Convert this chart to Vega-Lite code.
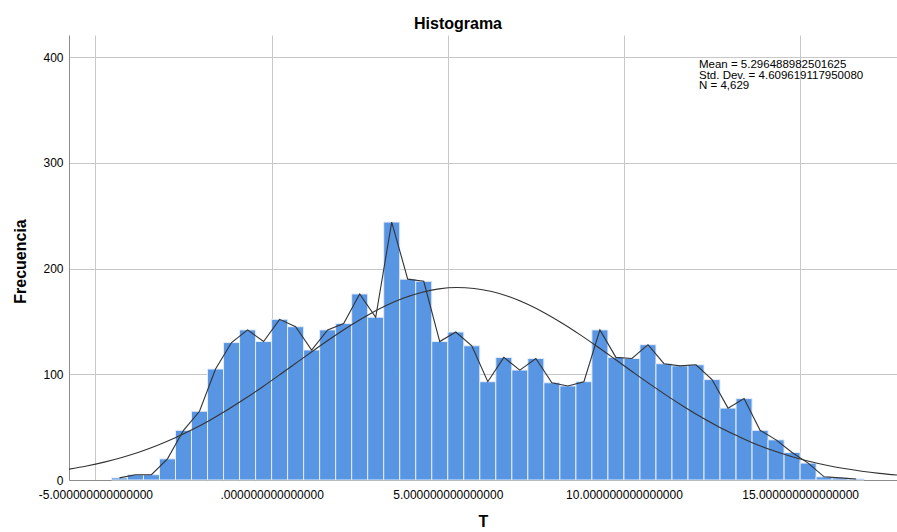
{
  "$schema": "https://vega.github.io/schema/vega-lite/v6.json",
  "width": 828,
  "height": 445,
  "autosize": "none",
  "padding": {"left": 69, "top": 35, "right": 0, "bottom": 52},
  "background": "white",
  "title": {"text": "Histograma", "font": "Liberation Sans", "fontSize": 16, "fontWeight": "bold", "color": "#000000", "anchor": "middle", "frame": "group", "dx": -25, "offset": 3},
  "config": {
    "view": {"stroke": null},
    "font": "Liberation Sans"
  },
  "datasets": {
    "bins": [
      {"start": -4.5455, "end": -4.0909, "mid": -4.3182, "count": 2},
      {"start": -4.0909, "end": -3.6364, "mid": -3.8636, "count": 5},
      {"start": -3.6364, "end": -3.1818, "mid": -3.4091, "count": 5},
      {"start": -3.1818, "end": -2.7273, "mid": -2.9545, "count": 20},
      {"start": -2.7273, "end": -2.2727, "mid": -2.5, "count": 47},
      {"start": -2.2727, "end": -1.8182, "mid": -2.0455, "count": 65},
      {"start": -1.8182, "end": -1.3636, "mid": -1.5909, "count": 105},
      {"start": -1.3636, "end": -0.9091, "mid": -1.1364, "count": 130},
      {"start": -0.9091, "end": -0.4545, "mid": -0.6818, "count": 142},
      {"start": -0.4545, "end": 0, "mid": -0.2273, "count": 131},
      {"start": 0, "end": 0.4545, "mid": 0.2273, "count": 152},
      {"start": 0.4545, "end": 0.9091, "mid": 0.6818, "count": 145},
      {"start": 0.9091, "end": 1.3636, "mid": 1.1364, "count": 123},
      {"start": 1.3636, "end": 1.8182, "mid": 1.5909, "count": 142},
      {"start": 1.8182, "end": 2.2727, "mid": 2.0455, "count": 148},
      {"start": 2.2727, "end": 2.7273, "mid": 2.5, "count": 176},
      {"start": 2.7273, "end": 3.1818, "mid": 2.9545, "count": 154},
      {"start": 3.1818, "end": 3.6364, "mid": 3.4091, "count": 244},
      {"start": 3.6364, "end": 4.0909, "mid": 3.8636, "count": 190},
      {"start": 4.0909, "end": 4.5455, "mid": 4.3182, "count": 188},
      {"start": 4.5455, "end": 5, "mid": 4.7727, "count": 131},
      {"start": 5, "end": 5.4545, "mid": 5.2273, "count": 140},
      {"start": 5.4545, "end": 5.9091, "mid": 5.6818, "count": 127},
      {"start": 5.9091, "end": 6.3636, "mid": 6.1364, "count": 93},
      {"start": 6.3636, "end": 6.8182, "mid": 6.5909, "count": 116},
      {"start": 6.8182, "end": 7.2727, "mid": 7.0455, "count": 104},
      {"start": 7.2727, "end": 7.7273, "mid": 7.5, "count": 115},
      {"start": 7.7273, "end": 8.1818, "mid": 7.9545, "count": 92},
      {"start": 8.1818, "end": 8.6364, "mid": 8.4091, "count": 89},
      {"start": 8.6364, "end": 9.0909, "mid": 8.8636, "count": 93},
      {"start": 9.0909, "end": 9.5455, "mid": 9.3182, "count": 142},
      {"start": 9.5455, "end": 10, "mid": 9.7727, "count": 116},
      {"start": 10, "end": 10.4545, "mid": 10.2273, "count": 115},
      {"start": 10.4545, "end": 10.9091, "mid": 10.6818, "count": 128},
      {"start": 10.9091, "end": 11.3636, "mid": 11.1364, "count": 110},
      {"start": 11.3636, "end": 11.8182, "mid": 11.5909, "count": 108},
      {"start": 11.8182, "end": 12.2727, "mid": 12.0455, "count": 109},
      {"start": 12.2727, "end": 12.7273, "mid": 12.5, "count": 95},
      {"start": 12.7273, "end": 13.1818, "mid": 12.9545, "count": 68},
      {"start": 13.1818, "end": 13.6364, "mid": 13.4091, "count": 77},
      {"start": 13.6364, "end": 14.0909, "mid": 13.8636, "count": 47},
      {"start": 14.0909, "end": 14.5455, "mid": 14.3182, "count": 38},
      {"start": 14.5455, "end": 15, "mid": 14.7727, "count": 26},
      {"start": 15, "end": 15.4545, "mid": 15.2273, "count": 16},
      {"start": 15.4545, "end": 15.9091, "mid": 15.6818, "count": 3},
      {"start": 15.9091, "end": 16.3636, "mid": 16.1364, "count": 2},
      {"start": 16.3636, "end": 16.8182, "mid": 16.5909, "count": 1}
    ],
    "normal": [
      {"x": -5.75, "y": 10.31}, {"x": -5.25, "y": 13.29}, {"x": -4.75, "y": 16.94}, {"x": -4.25, "y": 21.33},
      {"x": -3.75, "y": 26.54}, {"x": -3.25, "y": 32.65}, {"x": -2.75, "y": 39.69}, {"x": -2.25, "y": 47.68},
      {"x": -1.75, "y": 56.61}, {"x": -1.25, "y": 66.43}, {"x": -0.75, "y": 77.04}, {"x": -0.25, "y": 88.29},
      {"x": 0.25, "y": 100.01}, {"x": 0.75, "y": 111.96}, {"x": 1.25, "y": 123.87}, {"x": 1.75, "y": 135.45},
      {"x": 2.25, "y": 146.37}, {"x": 2.75, "y": 156.33}, {"x": 3.25, "y": 165.01}, {"x": 3.75, "y": 172.13},
      {"x": 4.25, "y": 177.47}, {"x": 4.75, "y": 180.83}, {"x": 5.25, "y": 182.09}, {"x": 5.75, "y": 181.22},
      {"x": 6.25, "y": 178.25}, {"x": 6.75, "y": 173.27}, {"x": 7.25, "y": 166.46}, {"x": 7.75, "y": 158.05},
      {"x": 8.25, "y": 148.31}, {"x": 8.75, "y": 137.54}, {"x": 9.25, "y": 126.06}, {"x": 9.75, "y": 114.19},
      {"x": 10.25, "y": 102.22}, {"x": 10.75, "y": 90.44}, {"x": 11.25, "y": 79.09}, {"x": 11.75, "y": 68.34},
      {"x": 12.25, "y": 58.37}, {"x": 12.75, "y": 49.27}, {"x": 13.25, "y": 41.31}, {"x": 13.75, "y": 33.89},
      {"x": 14.25, "y": 27.61}, {"x": 14.75, "y": 22.23}, {"x": 15.25, "y": 17.70}, {"x": 15.75, "y": 13.92},
      {"x": 16.25, "y": 10.82}, {"x": 16.75, "y": 8.31}, {"x": 17.25, "y": 6.31}, {"x": 17.75, "y": 4.73}
    ],
    "stats": [
      {"tx": 12.13, "ty": 393.0, "label": "Mean = 5.296488982501625"},
      {"tx": 12.13, "ty": 382.6, "label": "Std. Dev. = 4.609619117950080"},
      {"tx": 12.13, "ty": 372.4, "label": "N = 4,629"}
    ]
  },
  "layer": [
    {
      "data": {"name": "bins"},
      "mark": {"type": "bar", "color": "#5895e3", "stroke": "#e4edfa", "strokeWidth": 1},
      "encoding": {
        "x": {
          "field": "start", "type": "quantitative",
          "scale": {"domain": [-5.75, 17.75], "nice": false, "zero": false},
          "axis": {
            "title": "T", "titleFont": "Liberation Sans", "titleFontSize": 16, "titleFontWeight": "bold", "titleColor": "#000000", "titlePadding": 13,
            "values": [-5, 0, 5, 10, 15],
            "labelExpr": "datum.value === 0 ? '.000000000000000' : (datum.value < 0 ? '-' : '') + abs(datum.value) + '.000000000000000'",
            "labelFont": "Liberation Sans", "labelFontSize": 12, "labelColor": "#000000", "labelPadding": 9,
            "ticks": false, "domainColor": "#8c8c8c", "domainWidth": 1,
            "grid": true, "gridColor": "#c8c8c8", "gridWidth": 1
          }
        },
        "x2": {"field": "end"},
        "y": {
          "field": "count", "type": "quantitative",
          "scale": {"domain": [0, 421], "nice": false},
          "axis": {
            "title": "Frecuencia", "titleFont": "Liberation Sans", "titleFontSize": 16, "titleFontWeight": "bold", "titleColor": "#000000",
            "titleX": -49, "titleY": 226, "titleAngle": -90, "titleAlign": "center", "titleBaseline": "middle",
            "values": [0, 100, 200, 300, 400],
            "labelFont": "Liberation Sans", "labelFontSize": 12, "labelColor": "#000000", "labelPadding": 6,
            "ticks": false, "domainColor": "#8c8c8c", "domainWidth": 1,
            "grid": true, "gridColor": "#c8c8c8", "gridWidth": 1
          }
        },
        "y2": {"datum": 0}
      }
    },
    {
      "data": {"name": "bins"},
      "mark": {"type": "line", "color": "#333333", "strokeWidth": 1.1},
      "encoding": {
        "x": {"field": "mid", "type": "quantitative", "title": "T"},
        "y": {"field": "count", "type": "quantitative", "title": "Frecuencia"}
      }
    },
    {
      "data": {"name": "normal"},
      "mark": {"type": "line", "color": "#333333", "strokeWidth": 1.1, "interpolate": "monotone", "clip": true},
      "encoding": {
        "x": {"field": "x", "type": "quantitative", "title": "T"},
        "y": {"field": "y", "type": "quantitative", "title": "Frecuencia"}
      }
    },
    {
      "data": {"name": "stats"},
      "mark": {"type": "text", "align": "left", "baseline": "middle", "font": "Liberation Sans", "fontSize": 11.5, "color": "#000000"},
      "encoding": {
        "x": {"field": "tx", "type": "quantitative", "title": "T"},
        "y": {"field": "ty", "type": "quantitative", "title": "Frecuencia"},
        "text": {"field": "label"}
      }
    }
  ]
}
